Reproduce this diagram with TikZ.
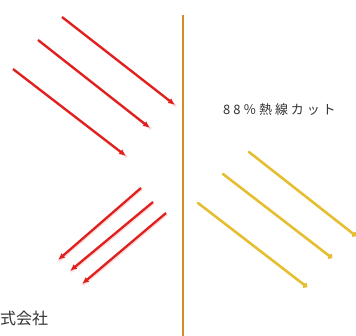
\documentclass[tikz,border=0pt]{standalone}
\usepackage{fontspec}
\newfontfamily\cjk{Noto Sans CJK JP}
\newfontfamily\cjkspaced[LetterSpace=22]{Noto Sans CJK JP}
\usetikzlibrary{arrows.meta}
\definecolor{redray}{HTML}{E0201E}
\definecolor{yelray}{HTML}{E6BE32}
\definecolor{glass}{HTML}{D9882C}
\begin{document}
\begin{tikzpicture}[x=1pt,y=-1pt,
  redarrow/.style={draw=redray,line width=2.3pt,-{Latex[length=7pt,width=6pt]}},
  redshadow/.style={draw=redray!30,line width=2.6pt,opacity=0.5},
  yelarrow/.style={draw=yelray,line width=2.6pt,line cap=round,-{Circle[length=5pt,width=5pt]}},
  label/.style={inner sep=0pt,anchor=west,text=black!80}]
\useasboundingbox (0,0) rectangle (356,336);
% glass
\coordinate (gt) at (183,15);
\coordinate (gb) at (183,336);
\draw[glass,line width=2.6pt] (gt) -- (gb);
% incoming red
\coordinate (r1s) at (62,17);  \coordinate (r1e) at (175,105);
\coordinate (r2s) at (38,40);  \coordinate (r2e) at (150,128);
\coordinate (r3s) at (13,69);  \coordinate (r3e) at (126,156);
% reflected red
\coordinate (f1s) at (141,188); \coordinate (f1e) at (58,260);
\coordinate (f2s) at (153,202); \coordinate (f2e) at (70,271);
\coordinate (f3s) at (166,213); \coordinate (f3e) at (82,284);
\foreach \s/\e in {r1s/r1e,r2s/r2e,r3s/r3e,f1s/f1e,f2s/f2e,f3s/f3e}{
  \draw[redshadow,transform canvas={xshift=1pt,yshift=-1pt}] (\s) -- (\e);
  \draw[redarrow] (\s) -- (\e);
}
% transmitted yellow
\coordinate (y1s) at (249,152); \coordinate (y1e) at (356,236);
\coordinate (y2s) at (223,174); \coordinate (y2e) at (332,258);
\coordinate (y3s) at (198,203); \coordinate (y3e) at (307,287);
\foreach \s/\e in {y1s/y1e,y2s/y2e,y3s/y3e}{
  \draw[yelarrow] (\s) -- (\e);
}
% labels
\node[label,font=\cjkspaced\fontsize{13}{15}\selectfont] (cut) at (223,110) {88％熱線カット};
\node[label,font=\cjk\fontsize{16}{18}\selectfont] (corp) at (0,318) {式会社};
\end{tikzpicture}
\end{document}
